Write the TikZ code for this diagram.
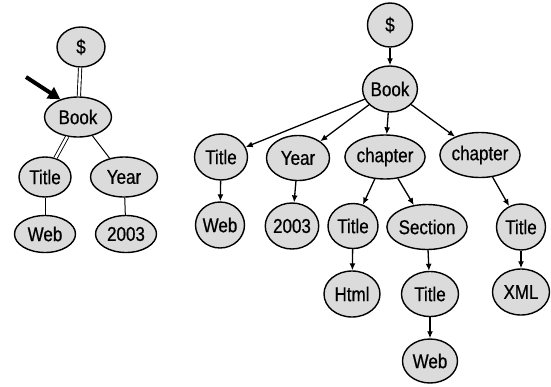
\documentclass[tikz,border=0pt]{standalone}
\usepackage{fontspec}
\setmainfont{Liberation Sans}
\newfontfamily\treefont[FakeStretch=0.85,FakeBold=0.6]{Liberation Sans}
\usetikzlibrary{shapes.geometric,arrows.meta}
\tikzset{
  tnode/.style={ellipse, draw, line width=1.4pt, fill=gray!28, inner sep=0pt,
    minimum height=40pt, minimum width=#1, font=\treefont\fontsize{20}{22}\selectfont},
  tnode/.default=50pt,
  qedge/.style={line width=1pt},
  dedge/.style={double, double distance=2.4pt, line width=0.9pt},
  aedge/.style={line width=1.3pt, -{Latex[length=7pt,width=6pt]}}
}
\begin{document}
\begin{tikzpicture}[x=1pt,y=-1pt]
\useasboundingbox (0,0) rectangle (551,386);
%query tree
\node[tnode=48pt] (ldollar) at (81,47) {\$};
\node[tnode=67pt] (lbook) at (78,117) {Book};
\node[tnode=52pt] (ltitle) at (45,177) {Title};
\node[tnode=67pt] (lyear) at (124,177) {Year};
\node[tnode=61pt,minimum height=37pt] (lweb) at (45,234) {Web};
\node[tnode=61pt,minimum height=37pt] (lyr) at (126,234) {2003};
%query edges
\draw[dedge] (ldollar) -- (lbook);
\draw[dedge] (lbook) -- (ltitle);
\draw[qedge] (lbook) -- (lyear);
\draw[qedge] (ltitle) -- (lweb);
\draw[qedge] (lyear) -- (lyr);
%pointer
\coordinate (ptr) at (26,77);
\draw[line width=4pt, -{Triangle[length=12pt,width=13pt]}] (ptr) -- (lbook.135);
%
%document tree
\node[tnode=45pt,minimum height=44pt] (dollar) at (390,25) {\$};
\node[tnode=45pt,minimum height=46pt] (book) at (390,89) {Book};
\node[tnode=53pt,minimum height=46pt] (title) at (221,157) {Title};
\node[tnode=63pt,minimum height=45pt] (year) at (298,158) {Year};
\node[tnode=63pt,minimum height=44pt] (chapa) at (385,157) {chapter};
\node[tnode=65pt,minimum height=45pt] (chapb) at (480,155) {chapter};
\node[tnode=49pt,minimum height=46pt] (web) at (220,225) {Web};
\node[tnode=49pt,minimum height=46pt] (yr) at (292,226) {2003};
\node[tnode=50pt,minimum height=45pt] (titlea) at (353,226) {Title};
\node[tnode=61pt,minimum height=45pt] (section) at (427,227) {Section};
\node[tnode=49pt,minimum height=46pt] (titleb) at (521,227) {Title};
\node[tnode=56pt,minimum height=46pt] (html) at (352,294) {Html};
\node[tnode=57pt,minimum height=45pt] (titlec) at (430,294) {Title};
\node[tnode=57pt,minimum height=46pt] (xml) at (521,292) {XML};
\node[tnode=55pt,minimum height=44pt] (webb) at (430,361) {Web};
%document edges
\draw[aedge] (dollar) -- (book);
\draw[aedge] (book) -- (title);
\draw[aedge] (book) -- (year);
\draw[aedge] (book) -- (chapa);
\draw[aedge] (book) -- (chapb);
\draw[aedge] (title) -- (web);
\draw[aedge] (year) -- (yr);
\draw[aedge] (chapa) -- (titlea);
\draw[aedge] (chapa) -- (section);
\draw[aedge] (chapb) -- (titleb);
\draw[aedge] (titlea) -- (html);
\draw[aedge] (section) -- (titlec);
\draw[aedge] (titlec) -- (webb);
\draw[aedge] (titleb) -- (xml);
\end{tikzpicture}
\end{document}
